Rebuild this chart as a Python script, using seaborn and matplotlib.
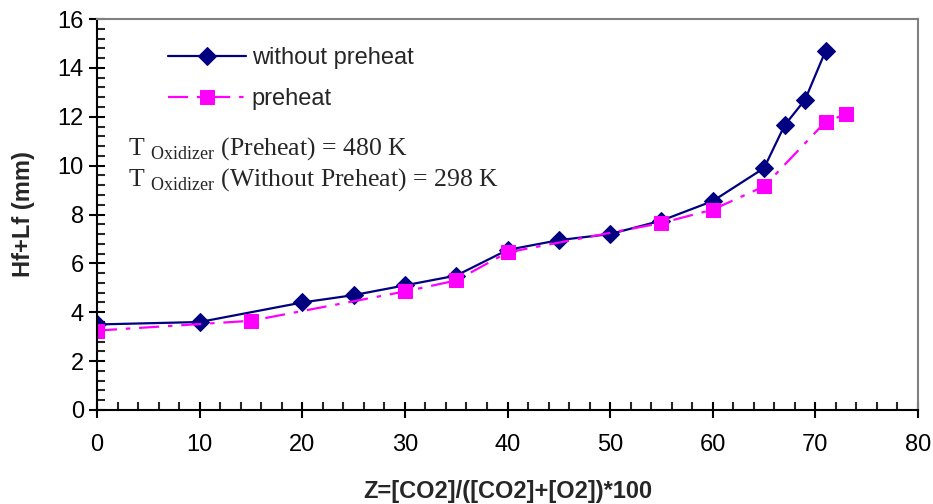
import pandas as pd
import matplotlib.pyplot as plt
import seaborn as sns
from matplotlib.ticker import MultipleLocator

sns.set_style("ticks")
plt.rcParams['font.family'] = ['Liberation Sans', 'DejaVu Sans']
plt.rcParams['mathtext.fontset'] = 'custom'
plt.rcParams['mathtext.rm'] = 'Liberation Serif'

# data
z_without = [0, 10, 20, 25, 30, 35, 40, 45, 50, 55, 60, 65, 67, 69, 71]
h_without = [3.5, 3.6, 4.4, 4.7, 5.1, 5.5, 6.55, 6.95, 7.2, 7.75, 8.55, 9.9, 11.65, 12.7, 14.7]

z_preheat = [0, 15, 30, 35, 40, 55, 60, 65, 71, 73]
h_preheat = [3.25, 3.65, 4.85, 5.3, 6.45, 7.65, 8.2, 9.15, 11.8, 12.1]

without_df = pd.DataFrame({'z': z_without, 'h': h_without})
preheat_df = pd.DataFrame({'z': z_preheat, 'h': h_preheat})

fig = plt.figure(figsize=(9.33, 5.04), dpi=100)
ax = fig.add_axes([97/933, 1 - 410/504, 821/933, 391/504])

sns.lineplot(data=without_df, x='z', y='h', ax=ax, color='#000080', linewidth=1.6,
             marker='D', markersize=9.5, markeredgecolor='#000080', label='without preheat')
sns.lineplot(data=preheat_df, x='z', y='h', ax=ax, color='#FF00FF', linewidth=1.6,
             linestyle=(0, (9, 4, 2, 4)), marker='s', markersize=9.5,
             markeredgecolor='#FF00FF', label='preheat')

ax.set_xlim(0, 80)
ax.set_ylim(0, 16)
ax.xaxis.set_major_locator(MultipleLocator(10))
ax.xaxis.set_minor_locator(MultipleLocator(2))
ax.yaxis.set_major_locator(MultipleLocator(2))
ax.yaxis.set_minor_locator(MultipleLocator(0.4))

ax.tick_params(which='major', direction='inout', length=11, width=1.5, labelsize=17, colors='black')
ax.tick_params(which='minor', direction='in', length=6, width=1.5)
ax.tick_params(axis='x', which='major', pad=12)
ax.tick_params(axis='y', which='major', pad=4)

for side in ['left', 'bottom']:
    ax.spines[side].set_color('black')
    ax.spines[side].set_linewidth(1.5)
for side in ['top', 'right']:
    ax.spines[side].set_visible(True)
    ax.spines[side].set_color('#808080')
    ax.spines[side].set_linewidth(1.5)

ax.set_xlabel('Z=[CO2]/([CO2]+[O2])*100', fontsize=17, fontweight='bold', labelpad=17)
ax.set_ylabel('Hf+Lf (mm)', fontsize=17, fontweight='bold', labelpad=16)

ax.legend(frameon=False, loc='upper left', bbox_to_anchor=(168/933, 1 - 47/504),
          bbox_transform=fig.transFigure, borderaxespad=0, borderpad=0,
          handlelength=3.3, handletextpad=0.25, labelspacing=0.82, fontsize=17)

fig.text(128/933, 1 - 155/504, r'T $_{\mathrm{Oxidizer}}$ (Preheat) = 480 K',
         family='Liberation Serif', fontsize=18.5, va='baseline')
fig.text(128/933, 1 - 186/504, r'T $_{\mathrm{Oxidizer}}$ (Without Preheat) = 298 K',
         family='Liberation Serif', fontsize=18.5, va='baseline')

fig.savefig('out.png', dpi=100)
